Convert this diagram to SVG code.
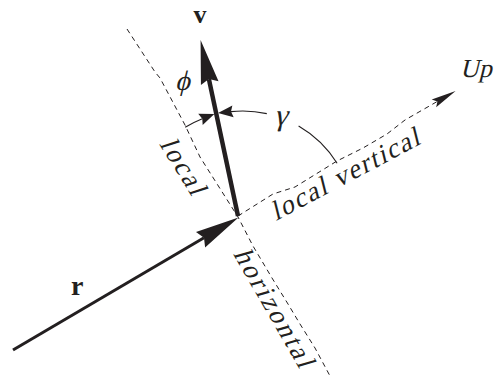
<svg xmlns="http://www.w3.org/2000/svg" width="498" height="376" viewBox="0 0 498 376">
<style>
  .dash{fill:none;stroke:#231f20;stroke-width:1;stroke-dasharray:5 4}
  .arc{fill:none;stroke:#231f20;stroke-width:1.1}
  .vec{fill:none;stroke:#231f20;stroke-linecap:butt}
  .head{fill:#231f20;stroke:none}
  .it{font-family:"Liberation Serif","DejaVu Serif",serif;font-style:normal;fill:#231f20}
  .bf{font-family:"Liberation Serif","DejaVu Serif",serif;font-weight:bold;fill:#231f20}
</style>
<defs>
  <marker id="big" markerUnits="userSpaceOnUse" viewBox="-46 -12 50 24" markerWidth="50" markerHeight="24" refX="-40" refY="0" orient="auto" overflow="visible">
    <path class="head" d="M0,0 L-44,-9 L-40,0 L-44,9 Z"/>
  </marker>
  <marker id="mid" markerUnits="userSpaceOnUse" viewBox="-28 -7 30 14" markerWidth="30" markerHeight="14" refX="-21" refY="0" orient="auto" overflow="visible">
    <path class="head" d="M0,0 L-25,-4.5 L-21,0 L-25,4.5 Z"/>
  </marker>
  <marker id="small" markerUnits="userSpaceOnUse" viewBox="-17 -8 19 16" markerWidth="19" markerHeight="16" refX="-13" refY="0" orient="auto" overflow="visible">
    <path class="head" d="M0,0 L-15,-6 L-13,0 L-15,6 Z"/>
  </marker>
</defs>

<g id="guides">
  <polyline id="local-horizontal" class="dash" points="127,29 155,72 160,78 185,125 200,157 238,217 253,246 272,278 288,304 300,324 315,348 330,376"/>
  <polyline id="local-vertical" class="dash" points="238,216 273,194 295,187 337,161 363,148 387,134 405,120 437.4,101.4" marker-end="url(#mid)"/>
</g>

<g id="connectors">
  <path id="vec-r" class="vec" stroke-width="3" d="M13,350 L204,237.8" marker-end="url(#big)"/>
  <path id="vec-v" class="vec" stroke-width="4.5" d="M238,216 L208.9,79.1" marker-end="url(#big)"/>
  <path id="arc-gamma-1" class="arc" d="M337.1,163.2 A111,111 0 0 0 298.6,125.9"/>
  <path id="arc-gamma-2" class="arc" d="M266.8,113.6 A111,111 0 0 0 231,111.6" marker-end="url(#small)"/>
  <path id="arc-phi" class="arc" d="M185.2,127.3 A111,111 0 0 1 202.3,118.7" marker-end="url(#small)"/>
</g>

<g id="labels">
  <text id="lbl-v" class="bf" x="200" y="23" font-size="26" text-anchor="middle">v</text>
  <text id="lbl-r" class="bf" x="71" y="295" font-size="28">r</text>
  <text id="lbl-up" class="it" x="0" y="0" font-size="26" transform="translate(460 77) skewX(-14)">Up</text>
  <text id="lbl-phi" class="it" x="0" y="0" font-size="28" transform="translate(175 90) skewX(-14)">ϕ</text>
  <text id="lbl-gamma" class="it" x="0" y="0" font-size="30" transform="translate(274 125) skewX(-14)">γ</text>
  <text id="lbl-local" class="it" x="0" y="0" font-size="27" textLength="62" lengthAdjust="spacing" transform="translate(159 144) rotate(58) skewX(-14)">local</text>
  <text id="lbl-horizontal" class="it" x="0" y="0" font-size="27" textLength="133" lengthAdjust="spacing" transform="translate(233 254) rotate(60) skewX(-14)">horizontal</text>
  <text id="lbl-local-vertical" class="it" x="0" y="0" font-size="27" textLength="165" lengthAdjust="spacing" transform="translate(276 221) rotate(-28) skewX(-14)">local vertical</text>
</g>
</svg>
